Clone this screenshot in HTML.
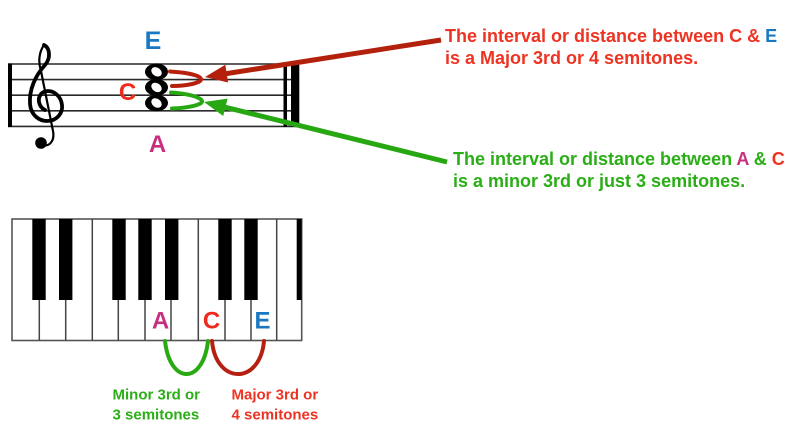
<!DOCTYPE html>
<html>
<head>
<meta charset="utf-8">
<style>
html,body{margin:0;padding:0;background:#fff;}
svg{display:block;}
text{font-family:"Liberation Sans",Arial,sans-serif;font-weight:bold;}
</style>
</head>
<body>
<svg width="793" height="436" viewBox="0 0 793 436" xmlns="http://www.w3.org/2000/svg">
  <rect width="793" height="436" fill="#fff"/>

  <!-- Staff lines -->
  <g stroke="#2a2a2a" stroke-width="1.6">
    <line x1="8" y1="64" x2="299" y2="64"/>
    <line x1="8" y1="79.6" x2="299" y2="79.6"/>
    <line x1="8" y1="95.2" x2="299" y2="95.2"/>
    <line x1="8" y1="110.8" x2="299" y2="110.8"/>
    <line x1="8" y1="126.4" x2="299" y2="126.4"/>
  </g>
  <!-- Barlines -->
  <rect x="8" y="63.5" width="4" height="63.5" fill="#000"/>
  <rect x="283.5" y="63.5" width="3.5" height="63.5" fill="#000"/>
  <rect x="291" y="63.5" width="8.3" height="63.5" fill="#000"/>

  <!-- Treble clef -->
  <g fill="none" stroke="#000" stroke-linecap="round">
    <path d="M44 45 C50 48, 51 58, 45 65 C35 76, 29 90, 30 104 C31 116, 40 121, 47 121 C57 121, 63 113, 62 105 C61 96, 54 91, 48 91 C42 91, 38 96, 39 102 C40 107, 43 109, 45 110" stroke-width="3.8"/>
    <path d="M44 45 C39 52, 38 62, 41 71 L53 131 C55 141, 49 147, 43 145" stroke-width="2.2"/>
  </g>
  <circle cx="41" cy="143" r="5.8" fill="#000"/>

  <!-- Whole notes -->
  <g>
    <ellipse cx="156.5" cy="71.8" rx="11.5" ry="8.3" fill="#000"/>
    <ellipse cx="156.5" cy="87.4" rx="11.5" ry="8.3" fill="#000"/>
    <ellipse cx="156.5" cy="103" rx="11.5" ry="8.3" fill="#000"/>
    <ellipse cx="156.5" cy="71.8" rx="5.6" ry="4.2" fill="#fff" transform="rotate(35 156.5 71.8)"/>
    <ellipse cx="156.5" cy="87.4" rx="5.6" ry="4.2" fill="#fff" transform="rotate(35 156.5 87.4)"/>
    <ellipse cx="156.5" cy="103" rx="5.6" ry="4.2" fill="#fff" transform="rotate(35 156.5 103)"/>
  </g>

  <!-- Brackets next to notes -->
  <path d="M170 71.5 C186 72.5, 200 75, 201 79 C202 83, 186 86, 172 86" fill="none" stroke="#b8200e" stroke-width="4" stroke-linecap="round"/>
  <path d="M171 92.5 C187 93.5, 201 97, 202 101 C203 105, 187 108, 172 108.5" fill="none" stroke="#27a812" stroke-width="4" stroke-linecap="round"/>

  <!-- Staff letter labels -->
  <text x="153" y="49" font-size="25" fill="#1a78c2" text-anchor="middle">E</text>
  <text x="127.5" y="100" font-size="24" fill="#f02a1a" text-anchor="middle">C</text>
  <text x="157.5" y="152" font-size="24" fill="#c7307f" text-anchor="middle">A</text>

  <!-- Red arrow -->
  <line x1="441" y1="40" x2="224" y2="74" stroke="#b3200c" stroke-width="5"/>
  <polygon points="205,77 228.1,82.5 225.3,64.7" fill="#b3200c"/>
  <!-- Green arrow -->
  <line x1="447" y1="162" x2="223" y2="106.7" stroke="#27a812" stroke-width="5"/>
  <polygon points="204,102 227.6,98.6 223.2,116" fill="#27a812"/>

  <!-- Top explanatory text -->
  <text x="445" y="42" font-size="18" fill="#ee3322">The interval or distance between C &amp; <tspan fill="#1a78c2">E</tspan></text>
  <text x="445" y="64" font-size="18" fill="#ee3322">is a Major 3rd or 4 semitones.</text>

  <text x="453" y="165" font-size="18" fill="#2aae16">The interval or distance between <tspan fill="#c7307f">A</tspan> &amp; <tspan fill="#ee3322">C</tspan></text>
  <text x="453" y="187" font-size="18" fill="#2aae16">is a minor 3rd or just 3 semitones.</text>

  <!-- Piano -->
  <rect x="12" y="219" width="289.7" height="121.5" fill="#fff" stroke="#555" stroke-width="1.6"/>
  <g stroke="#444" stroke-width="1.5">
    <line x1="39.3" y1="219" x2="39.3" y2="340.5"/>
    <line x1="65.7" y1="219" x2="65.7" y2="340.5"/>
    <line x1="92.3" y1="219" x2="92.3" y2="340.5"/>
    <line x1="118.3" y1="219" x2="118.3" y2="340.5"/>
    <line x1="145" y1="219" x2="145" y2="340.5"/>
    <line x1="171" y1="219" x2="171" y2="340.5"/>
    <line x1="198.3" y1="219" x2="198.3" y2="340.5"/>
    <line x1="225" y1="219" x2="225" y2="340.5"/>
    <line x1="251" y1="219" x2="251" y2="340.5"/>
    <line x1="276.7" y1="219" x2="276.7" y2="340.5"/>
  </g>
  <g fill="#000">
    <rect x="32.3" y="219" width="13.4" height="81"/>
    <rect x="59" y="219" width="13.4" height="81"/>
    <rect x="112.3" y="219" width="13.4" height="81"/>
    <rect x="138.3" y="219" width="13.4" height="81"/>
    <rect x="165" y="219" width="13.4" height="81"/>
    <rect x="218.3" y="219" width="13.4" height="81"/>
    <rect x="244.3" y="219" width="13.4" height="81"/>
    <rect x="296.7" y="219" width="5" height="81"/>
  </g>

  <!-- Piano key labels -->
  <text x="160.5" y="328.5" font-size="24" fill="#c7307f" text-anchor="middle">A</text>
  <text x="211.5" y="328.5" font-size="24" fill="#f02a1a" text-anchor="middle">C</text>
  <text x="262.5" y="328.5" font-size="24" fill="#1a78c2" text-anchor="middle">E</text>

  <!-- Arcs under piano -->
  <path d="M165 341 C170 385, 203 385, 208 341" fill="none" stroke="#2aaa12" stroke-width="4" stroke-linecap="round"/>
  <path d="M212 341 C216 385, 260 385, 264 341" fill="none" stroke="#b52010" stroke-width="4" stroke-linecap="round"/>

  <!-- Bottom labels -->
  <text x="112.5" y="399.5" font-size="15" fill="#2aae16">Minor 3rd or</text>
  <text x="112.5" y="419.5" font-size="15" fill="#2aae16">3 semitones</text>
  <text x="231.5" y="399.5" font-size="15" fill="#ee3322">Major 3rd or</text>
  <text x="231.5" y="419.5" font-size="15" fill="#ee3322">4 semitones</text>
</svg>
</body>
</html>
